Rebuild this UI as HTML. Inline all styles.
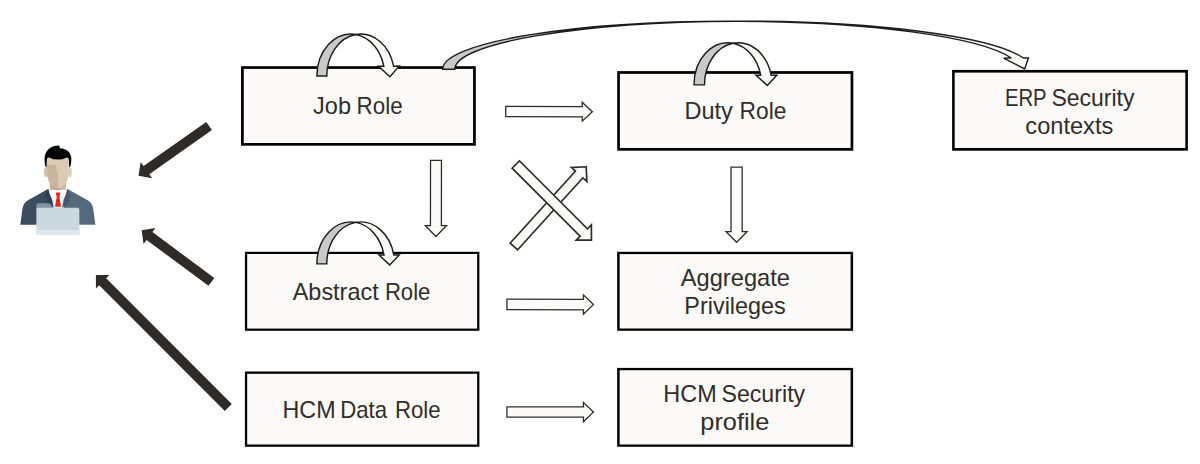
<!DOCTYPE html>
<html lang="en"><head><meta charset="utf-8"><title>Role diagram</title>
<style>
html,body{margin:0;padding:0;background:#fff;}
svg{display:block;}
text{font-family:"Liberation Sans",sans-serif;font-size:23.2px;fill:#312d2a;}
</style></head><body>
<svg width="1200" height="464" viewBox="0 0 1200 464">
<defs><filter id="soft" x="-5%" y="-5%" width="110%" height="110%"><feGaussianBlur stdDeviation="0.35"/></filter></defs>
<rect width="1200" height="464" fill="#fff"/>
<rect x="241" y="66.2" width="234.8" height="79.5" fill="#000"/><rect x="243.75" y="68.9" width="229.3" height="74.1" fill="#fbfaf9"/>
<rect x="617.2" y="71.1" width="236.1" height="79.6" fill="#000"/><rect x="619.9" y="73.85" width="230.7" height="74.1" fill="#fbfaf9"/>
<rect x="952.1" y="69.9" width="235.8" height="80.8" fill="#000"/><rect x="954.7" y="72.6" width="230.6" height="75.4" fill="#fbfaf9"/>
<rect x="244.9" y="251.8" width="234.5" height="79" fill="#000"/><rect x="247.2" y="254" width="229.9" height="74.6" fill="#fbfaf9"/>
<rect x="617.15" y="251.8" width="235.95" height="79" fill="#000"/><rect x="619.65" y="254.1" width="230.95" height="74.4" fill="#fbfaf9"/>
<rect x="244.9" y="371.5" width="234.5" height="75.3" fill="#000"/><rect x="247.2" y="373.8" width="229.9" height="70.7" fill="#fbfaf9"/>
<rect x="617.15" y="367.9" width="235.95" height="78.9" fill="#000"/><rect x="619.65" y="370.2" width="230.95" height="74.3" fill="#fbfaf9"/>
<clipPath id="c1"><path d="M505.09 117.27 L581.59 117.45 L581.58 122.62 L593.3 111.7 L581.62 100.72 L581.61 105.9 L505.11 105.73 Z"/></clipPath><path d="M505.09 117.27 L581.59 117.45 L581.58 122.62 L593.3 111.7 L581.62 100.72 L581.61 105.9 L505.11 105.73 Z" fill="#fbfaf9" stroke="#2c2c2c" stroke-width="2.6" stroke-linejoin="miter" stroke-miterlimit="10" clip-path="url(#c1)"/>
<clipPath id="c2"><path d="M506.29 310.27 L582.79 310.45 L582.77 315.72 L594.4 304.6 L582.83 293.42 L582.81 298.7 L506.31 298.53 Z"/></clipPath><path d="M506.29 310.27 L582.79 310.45 L582.77 315.72 L594.4 304.6 L582.83 293.42 L582.81 298.7 L506.31 298.53 Z" fill="#fbfaf9" stroke="#2c2c2c" stroke-width="2.6" stroke-linejoin="miter" stroke-miterlimit="10" clip-path="url(#c2)"/>
<clipPath id="c3"><path d="M506.29 417.77 L582.79 417.86 L582.79 423.29 L594.4 412.1 L582.81 400.89 L582.81 406.31 L506.31 406.23 Z"/></clipPath><path d="M506.29 417.77 L582.79 417.86 L582.79 423.29 L594.4 412.1 L582.81 400.89 L582.81 406.31 L506.31 406.23 Z" fill="#fbfaf9" stroke="#2c2c2c" stroke-width="2.6" stroke-linejoin="miter" stroke-miterlimit="10" clip-path="url(#c3)"/>
<clipPath id="c4"><path d="M429.88 159.69 L429.79 224.89 L423.77 224.88 L435.9 237.5 L448.07 224.92 L442.04 224.91 L442.12 159.71 Z"/></clipPath><path d="M429.88 159.69 L429.79 224.89 L423.77 224.88 L435.9 237.5 L448.07 224.92 L442.04 224.91 L442.12 159.71 Z" fill="#fbfaf9" stroke="#2c2c2c" stroke-width="2.6" stroke-linejoin="miter" stroke-miterlimit="10" clip-path="url(#c4)"/>
<clipPath id="c5"><path d="M730.38 166.5 L730.38 230.9 L724.5 230.9 L736.6 243.2 L748.7 230.9 L742.83 230.9 L742.83 166.5 Z"/></clipPath><path d="M730.38 166.5 L730.38 230.9 L724.5 230.9 L736.6 243.2 L748.7 230.9 L742.83 230.9 L742.83 166.5 Z" fill="#fbfaf9" stroke="#2c2c2c" stroke-width="2.6" stroke-linejoin="miter" stroke-miterlimit="10" clip-path="url(#c5)"/>
<clipPath id="c6"><path d="M517.65 251.05 L582.95 179.08 L587.82 183.5 L587 165.88 L569.38 166.77 L574.25 171.19 L508.95 243.15 Z"/></clipPath><path d="M517.65 251.05 L582.95 179.08 L587.82 183.5 L587 165.88 L569.38 166.77 L574.25 171.19 L508.95 243.15 Z" fill="#fbfaf9" stroke="#2c2c2c" stroke-width="3.4" stroke-linejoin="miter" stroke-miterlimit="10" clip-path="url(#c6)"/>
<clipPath id="c7"><path d="M510.94 168.16 L578.93 236.15 L574.17 240.91 L592.31 241.01 L592.21 222.87 L587.45 227.63 L519.46 159.64 Z"/></clipPath><path d="M510.94 168.16 L578.93 236.15 L574.17 240.91 L592.31 241.01 L592.21 222.87 L587.45 227.63 L519.46 159.64 Z" fill="#fbfaf9" stroke="#2c2c2c" stroke-width="3.4" stroke-linejoin="miter" stroke-miterlimit="10" clip-path="url(#c7)"/>
<path d="M316.93 76.08 A33.9 41.95 0 0 1 355.75 34.57 A33.9 41.95 0 0 0 326.78 76.08 Z" fill="#c9c9c9" stroke="#1c1c1c" stroke-width="1.45" stroke-linejoin="miter" stroke-miterlimit="10"/>
<path d="M355.75 34.57 A33.9 41.95 0 0 1 393.63 66.22 L399.2 66.12 L389.9 76.7 L378.6 66.22 L383.78 66.22 A33.9 41.95 0 0 0 355.75 34.57 Z" fill="#fbfaf9" stroke="#1c1c1c" stroke-width="1.45" stroke-linejoin="miter" stroke-miterlimit="10"/>
<path d="M694.02 84.88 A33.8 42.15 0 0 1 733.05 43.23 A33.8 42.15 0 0 0 704.48 84.88 Z" fill="#c9c9c9" stroke="#1c1c1c" stroke-width="1.45" stroke-linejoin="miter" stroke-miterlimit="10"/>
<path d="M733.05 43.23 A33.8 42.15 0 0 1 771.2 75.32 L776.8 75.32 L767.3 85.4 L756 75.32 L760.75 75.32 A33.8 42.15 0 0 0 733.05 43.23 Z" fill="#fbfaf9" stroke="#1c1c1c" stroke-width="1.45" stroke-linejoin="miter" stroke-miterlimit="10"/>
<path d="M316.93 263.88 A33.9 41.95 0 0 1 355.75 222.37 A33.9 41.95 0 0 0 326.78 263.88 Z" fill="#c9c9c9" stroke="#1c1c1c" stroke-width="1.45" stroke-linejoin="miter" stroke-miterlimit="10"/>
<path d="M355.75 222.37 A33.9 41.95 0 0 1 393.79 254.92 L399.2 254.92 L389.7 264.9 L379 254.92 L383.94 254.92 A33.9 41.95 0 0 0 355.75 222.37 Z" fill="#fbfaf9" stroke="#1c1c1c" stroke-width="1.45" stroke-linejoin="miter" stroke-miterlimit="10"/>
<path d="M442.6 69.2 A288.3 48 0 0 1 737 21.21 A288.3 48 0 0 0 454.8 69.2 Z" fill="#c9c9c9" stroke="#1c1c1c" stroke-width="1.4" stroke-linejoin="miter" stroke-miterlimit="3"/>
<path d="M737 21.21 A288.3 48 0 0 1 1023.44 58 L1028.4 57.9 L1024.7 68.9 L1003.6 58.1 L1011.24 58 A288.3 48 0 0 0 737 21.21 Z" fill="#fbfaf9" stroke="#1c1c1c" stroke-width="1.4" stroke-linejoin="miter" stroke-miterlimit="3"/>
<polygon points="206.25,121.95 143.58,166.07 140.68,161.94 138.5,175.7 152.19,178.29 149.28,174.16 211.95,130.05" fill="#2f2b29"/>
<polygon points="214.32,277.96 152.41,232.04 155.45,227.95 141.7,230.2 143.53,244.01 146.57,239.91 208.48,285.84" fill="#2f2b29"/>
<polygon points="231.8,404 106.19,278.2 109.41,274.98 95.9,274.9 95.96,288.41 99.18,285.19 224.8,411" fill="#2f2b29"/>
<g>
<text y="114"><tspan x="313.11" textLength="37.94" lengthAdjust="spacingAndGlyphs">Job</tspan> <tspan x="356.52" textLength="46.09" lengthAdjust="spacingAndGlyphs">Role</tspan></text>
<text y="119"><tspan x="684.48" textLength="48.32" lengthAdjust="spacingAndGlyphs">Duty</tspan> <tspan x="739.58" textLength="46.8" lengthAdjust="spacingAndGlyphs">Role</tspan></text>
<text y="106"><tspan x="1004.92" textLength="41.39" lengthAdjust="spacingAndGlyphs">ERP</tspan> <tspan x="1051.42" textLength="83.12" lengthAdjust="spacingAndGlyphs">Security</tspan></text>
<text y="134"><tspan x="1025.38" textLength="87.9" lengthAdjust="spacingAndGlyphs">contexts</tspan></text>
<text y="300"><tspan x="292.76" textLength="85.92" lengthAdjust="spacingAndGlyphs">Abstract</tspan> <tspan x="384.88" textLength="45.56" lengthAdjust="spacingAndGlyphs">Role</tspan></text>
<text y="286"><tspan x="680.76" textLength="109.23" lengthAdjust="spacingAndGlyphs">Aggregate</tspan></text>
<text y="314"><tspan x="684.37" textLength="101.47" lengthAdjust="spacingAndGlyphs">Privileges</tspan></text>
<text y="418"><tspan x="282.49" textLength="53.07" lengthAdjust="spacingAndGlyphs">HCM</tspan> <tspan x="340.15" textLength="46.9" lengthAdjust="spacingAndGlyphs">Data</tspan> <tspan x="394.89" textLength="45.73" lengthAdjust="spacingAndGlyphs">Role</tspan></text>
<text y="402"><tspan x="663.35" textLength="53.42" lengthAdjust="spacingAndGlyphs">HCM</tspan> <tspan x="721.44" textLength="83.72" lengthAdjust="spacingAndGlyphs">Security</tspan></text>
<text y="430"><tspan x="700.32" textLength="69.04" lengthAdjust="spacingAndGlyphs">profile</tspan></text>
</g>
<g id="person" filter="url(#soft)">
<!-- suit -->
<path d="M20.3 224.7 L22.6 208 Q23.6 202.6 28.4 200 L47.6 189.2 L57.9 189.2 L57.9 224.7 Z" fill="#3a4e5f"/>
<path d="M95.4 224.7 L93.1 208 Q92.1 202.6 87.3 200 L67.8 189.2 L57.9 189.2 L57.9 224.7 Z" fill="#54697b"/>
<!-- shirt -->
<path d="M48.6 189.3 L67 189.3 L63.6 208 L52.2 208 Z" fill="#ffffff"/>
<path d="M52.6 194 L55.6 208 L52.2 208 Z" fill="#e3e6e8"/>
<path d="M63 194 L60.2 208 L63.6 208 Z" fill="#e3e6e8"/>
<!-- lapels -->
<path d="M47.6 189.2 L44.6 196.5 L47.6 198.6 L45.6 200.6 L53.6 208.5 L52.2 200 Z" fill="#2f4253"/>
<path d="M67.8 189.2 L71 196.5 L68 198.6 L70 200.6 L62.2 208.5 L63.6 200 Z" fill="#46596b"/>
<!-- tie -->
<path d="M55.7 192.4 L60.5 192.4 L59.4 196.9 L61 206.8 L55 206.8 L56.7 196.9 Z" fill="#e5271f"/>
<!-- neck -->
<path d="M49.8 178 L66.2 178 L66.2 189.8 L49.8 189.8 Z" fill="#d9c7b2"/>
<path d="M49.8 178 L58.2 178 L58.2 189.8 L49.8 189.8 Z" fill="#c9b59e"/>
<path d="M50.4 183.4 Q54 188.6 58.2 188.6 Q62.4 188.6 65.6 183.4 L64.6 186.2 Q61.6 190 58.2 189.9 Q54.6 190 51.4 186.2 Z" fill="#b7a28b"/>
<!-- ears -->
<ellipse cx="45.9" cy="172.2" rx="1.9" ry="4.9" fill="#d3bfa8"/>
<ellipse cx="69.9" cy="172.2" rx="1.9" ry="4.9" fill="#dccab6"/>
<!-- face -->
<path d="M46.9 160 Q46.8 157.2 49 157.4 L57.9 158.6 L66.6 157.4 Q68.9 157.2 68.8 160 L68.6 175 Q68.2 180 65.4 183.6 Q62 187.8 57.9 187.8 Q53.8 187.8 50.4 183.6 Q47.6 180 47.2 175 Z" fill="#dccab5"/>
<path d="M47 166.5 Q48.6 164.6 51 164.6 L55.4 164.6 Q57 165.4 56.6 168 Q56.2 170.6 57.4 172 Q58.6 173.6 58.2 175.4 L58.2 187.8 Q53.8 187.8 50.4 183.6 Q47.6 180 47.2 175 Z" fill="#c9b59d"/>
<!-- hair -->
<path d="M46.6 167.4 Q45 167 44.8 163 Q43.8 156 46.6 151.6 Q50 146.4 56.4 145.8 Q58.4 145.2 59.4 145.8 Q59 147.6 60.4 148.2 Q66.6 148.6 69.6 153 Q72.2 157 71 163.6 Q70.8 167 69.2 167.4 L68.9 160.4 Q68.8 157.4 66.6 157.4 Q62 159.8 57.9 159.6 Q53.6 159.8 49 157.4 Q46.8 157.4 46.8 160.4 Z" fill="#040404"/>
<!-- laptop -->
<path d="M36.4 208 L36.4 205 Q36.4 203.2 38.2 203.2 L48.6 203.2 Q50.4 203.2 51.2 205 L52.6 208 Z" fill="#8094a6"/>
<path d="M36.4 207.8 L77.4 207.8 Q79.4 207.8 79.4 209.8 L79.4 234.4 L36.4 234.4 Z" fill="#ccd8df"/>
<rect x="36.4" y="229.8" width="43" height="4.6" fill="#dde7eb"/>
</g>

</svg>
</body></html>
